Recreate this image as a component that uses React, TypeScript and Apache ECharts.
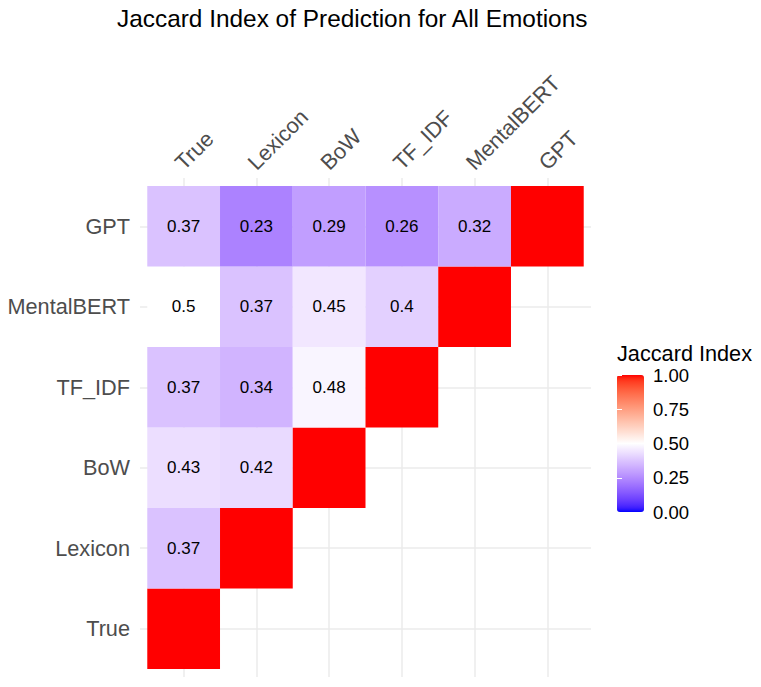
import React, { useEffect, useRef } from "react";
import * as echarts from "echarts";

// Methods compared, left-to-right on x and bottom-to-top on y
const methods = ["True", "Lexicon", "BoW", "TF_IDF", "MentalBERT", "GPT"];

// Pairwise Jaccard index, one array per row (values for columns left of the diagonal)
const rowTrue: number[] = [];
const rowLexicon = [0.37];
const rowBoW = [0.43, 0.42];
const rowTFIDF = [0.37, 0.34, 0.48];
const rowMentalBERT = [0.5, 0.37, 0.45, 0.4];
const rowGPT = [0.37, 0.23, 0.29, 0.26, 0.32];
const diagonalValue = 1;

const legendTicks = [0, 0.25, 0.5, 0.75, 1];

const FONT = "'Liberation Sans', Arial, sans-serif";

// --- diverging blue / white / red palette interpolated in CIE Lab ---
function toLin(c: number) {
  c /= 255;
  return c <= 0.04045 ? c / 12.92 : Math.pow((c + 0.055) / 1.055, 2.4);
}
function fromLin(v: number) {
  v = Math.min(1, Math.max(0, v));
  const c = v <= 0.0031308 ? 12.92 * v : 1.055 * Math.pow(v, 1 / 2.4) - 0.055;
  return Math.round(c * 255);
}
const REF = [0.95047, 1, 1.08883];
function rgbToLab(rgb: number[]) {
  const [R, G, B] = rgb.map(toLin);
  const X = (0.4124 * R + 0.3576 * G + 0.1805 * B) / REF[0];
  const Y = (0.2126 * R + 0.7152 * G + 0.0722 * B) / REF[1];
  const Z = (0.0193 * R + 0.1192 * G + 0.9505 * B) / REF[2];
  const f = (t: number) => (t > 0.008856 ? Math.cbrt(t) : 7.787 * t + 16 / 116);
  const fx = f(X), fy = f(Y), fz = f(Z);
  return [116 * fy - 16, 500 * (fx - fy), 200 * (fy - fz)];
}
function labToHex(lab: number[]) {
  const [L, a, b] = lab;
  const fy = (L + 16) / 116;
  const fx = fy + a / 500;
  const fz = fy - b / 200;
  const inv = (t: number) => (t * t * t > 0.008856 ? t * t * t : (t - 16 / 116) / 7.787);
  const X = inv(fx) * REF[0], Y = inv(fy) * REF[1], Z = inv(fz) * REF[2];
  const r = 3.2406 * X - 1.5372 * Y - 0.4986 * Z;
  const g = -0.9689 * X + 1.8758 * Y + 0.0415 * Z;
  const bb = 0.0557 * X - 0.204 * Y + 1.057 * Z;
  return "#" + [r, g, bb].map((v) => fromLin(v).toString(16).padStart(2, "0")).join("");
}
function buildPalette(steps: number) {
  const low = rgbToLab([0, 0, 255]);
  const mid = rgbToLab([255, 255, 255]);
  const high = rgbToLab([255, 0, 0]);
  const out: string[] = [];
  for (let i = 0; i <= steps; i++) {
    const v = i / steps;
    const [from, to, t] = v <= 0.5 ? [low, mid, v / 0.5] : [mid, high, (v - 0.5) / 0.5];
    out.push(labToHex(from.map((c, k) => c + (to[k] - c) * t)));
  }
  return out;
}

export default function App() {
  const ref = useRef<HTMLDivElement>(null);

  useEffect(() => {
    if (!ref.current) return;
    const chart = echarts.init(ref.current, undefined, { renderer: "svg" });

    const rows = [rowTrue, rowLexicon, rowBoW, rowTFIDF, rowMentalBERT, rowGPT];
    const cells: (number | boolean)[][] = [];
    rows.forEach((row, y) => {
      row.forEach((v, x) => cells.push([x, y, v, true]));
      cells.push([y, y, diagonalValue, false]);
    });

    const nameAt = (v: number) =>
      Number.isInteger(v) && v >= 0 && v < methods.length ? methods[v] : "";

    chart.setOption({
      animation: false,
      backgroundColor: "#ffffff",
      textStyle: { fontFamily: FONT },
      title: [
        {
          text: "Jaccard Index of Prediction for All Emotions",
          left: 117,
          top: 6,
          padding: 0,
          textStyle: { fontFamily: FONT, fontSize: 24.4, fontWeight: "normal", color: "#000000" },
        },
        {
          text: "Jaccard Index",
          left: 617,
          top: 342,
          padding: 0,
          textStyle: { fontFamily: FONT, fontSize: 21.7, lineHeight: 22, fontWeight: "normal", color: "#000000" },
        },
      ],
      grid: [
        { left: 140, right: 170, top: 178, bottom: 10, containLabel: false },
        { left: 617, top: 375, width: 27, height: 137, containLabel: false },
      ],
      xAxis: [
        {
          type: "value",
          gridIndex: 0,
          position: "top",
          min: -0.6,
          max: 5.6,
          minInterval: 1,
          maxInterval: 1,
          axisLine: { show: false },
          axisTick: { show: false },
          splitLine: {
            show: true,
            showMinLine: false,
            showMaxLine: false,
            lineStyle: { color: "#ebebeb", width: 1.5 },
          },
          axisLabel: {
            rotate: 45,
            margin: 7,
            verticalAlign: "bottom",
            lineHeight: 14,
            fontSize: 21.7,
            fontFamily: FONT,
            color: "#4d4d4d",
            showMinLabel: false,
            showMaxLabel: false,
            formatter: (v: number) => nameAt(v),
          },
        },
        { type: "value", gridIndex: 1, show: false, min: 0, max: 1 },
      ],
      yAxis: [
        {
          type: "value",
          gridIndex: 0,
          min: -0.6,
          max: 5.6,
          minInterval: 1,
          maxInterval: 1,
          axisLine: { show: false },
          axisTick: { show: false },
          splitLine: {
            show: true,
            showMinLine: false,
            showMaxLine: false,
            lineStyle: { color: "#ebebeb", width: 1.5 },
          },
          axisLabel: {
            margin: 10,
            fontSize: 21.7,
            fontFamily: FONT,
            color: "#4d4d4d",
            showMinLabel: false,
            showMaxLabel: false,
            formatter: (v: number) => nameAt(v),
          },
        },
        {
          type: "value",
          gridIndex: 1,
          position: "right",
          min: 0,
          max: 1,
          interval: 0.25,
          z: 10,
          axisLine: { show: false },
          axisTick: { show: true, inside: true, length: 5, lineStyle: { color: "#ffffff", width: 1 } },
          splitLine: { show: false },
          axisLabel: {
            margin: 9,
            fontSize: 18.5,
            lineHeight: 16,
            fontFamily: FONT,
            color: "#000000",
            formatter: (v: number) => (legendTicks.includes(v) ? v.toFixed(2) : ""),
          },
        },
        {
          type: "value",
          gridIndex: 1,
          position: "left",
          min: 0,
          max: 1,
          interval: 0.25,
          z: 10,
          axisLine: { show: false },
          axisTick: { show: true, inside: true, length: 5, lineStyle: { color: "#ffffff", width: 1 } },
          splitLine: { show: false },
          axisLabel: { show: false },
        },
      ],
      visualMap: {
        type: "continuous",
        min: 0,
        max: 1,
        seriesIndex: 0,
        dimension: 2,
        calculable: false,
        hoverLink: false,
        orient: "vertical",
        left: 617,
        top: 375,
        padding: 0,
        itemWidth: 27,
        itemHeight: 137,
        inRange: { color: buildPalette(40) },
      },
      series: [
        {
          type: "custom",
          xAxisIndex: 0,
          yAxisIndex: 0,
          data: cells,
          renderItem: (params: any, api: any) => {
            const x = api.value(0);
            const y = api.value(1);
            const v = api.value(2);
            const showLabel = cells[params.dataIndex][3];
            const c = api.coord([x, y]);
            const s = api.size([1, 1]);
            const children: any[] = [
              {
                type: "rect",
                shape: { x: c[0] - s[0] / 2, y: c[1] - s[1] / 2, width: s[0], height: s[1] },
                style: { fill: api.visual("color") },
              },
            ];
            if (showLabel) {
              children.push({
                type: "text",
                x: c[0],
                y: c[1],
                style: {
                  text: String(v),
                  align: "center",
                  verticalAlign: "middle",
                  fontSize: 17,
                  fontFamily: FONT,
                  fill: "#000000",
                },
              });
            }
            return { type: "group", children };
          },
        },
      ],
    });

    return () => chart.dispose();
  }, []);

  return (
    <div
      ref={ref}
      style={{ position: "fixed", left: 0, top: 0, width: 761, height: 687, background: "#fff" }}
    />
  );
}
